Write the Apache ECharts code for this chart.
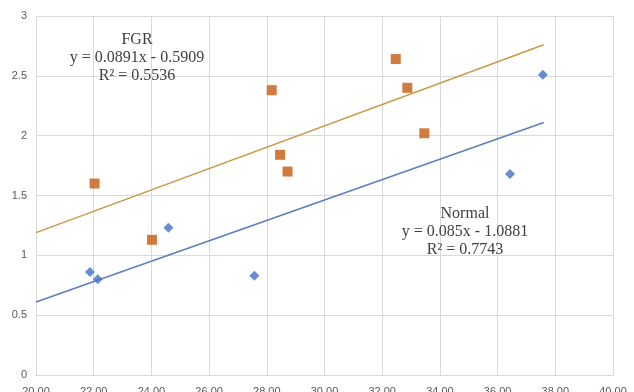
<!DOCTYPE html>
<html>
<head>
<meta charset="utf-8">
<script src="https://cdn.jsdelivr.net/npm/echarts@6/dist/echarts.min.js"></script>
<style>html,body{margin:0;padding:0;background:#fff;}#c{width:634px;height:392px;}</style>
</head>
<body>
<div id="c"></div>
<script>
// Data
const normalPoints = [[21.87, 0.86], [22.14, 0.80], [24.59, 1.23], [27.57, 0.83], [36.43, 1.68], [37.57, 2.51]];
const fgrPoints = [[22.03, 1.60], [24.02, 1.13], [28.17, 2.38], [28.46, 1.84], [28.72, 1.70], [32.47, 2.64], [32.87, 2.40], [33.46, 2.02]];
const normalTrend = [[20, 0.61], [37.6, 2.11]];
const fgrTrend = [[20, 1.19], [37.6, 2.76]];
const fgrLabel = ['FGR', 'y = 0.0891x - 0.5909', 'R\u00B2 = 0.5536'];
const normalLabel = ['Normal', 'y = 0.085x - 1.0881', 'R\u00B2 = 0.7743'];

const chart = echarts.init(document.getElementById('c'), null, {renderer: 'canvas'});
const serif = '"Liberation Serif", "DejaVu Serif", serif';
chart.setOption({
  animation: false,
  backgroundColor: '#fff',
  grid: {left: 36, right: 21, top: 16, bottom: 17, containLabel: false, outerBoundsMode: 'none'},
  xAxis: {
    type: 'value', min: 20, max: 40, interval: 2,
    axisLine: {show: true, lineStyle: {color: '#d9d9d9'}},
    axisTick: {show: false},
    splitLine: {show: true, lineStyle: {color: '#d9d9d9', width: 1}},
    axisLabel: {margin: 11, color: '#595959', fontSize: 11, fontFamily: '"Liberation Sans", sans-serif',
      formatter: v => v.toFixed(2)}
  },
  yAxis: {
    type: 'value', min: 0, max: 3, interval: 0.5,
    axisLine: {show: false},
    axisTick: {show: false},
    splitLine: {show: true, lineStyle: {color: '#d9d9d9', width: 1}},
    axisLabel: {margin: 9, color: '#595959', fontSize: 11, fontFamily: '"Liberation Sans", sans-serif'}
  },
  series: [
    {type: 'line', data: fgrTrend, symbol: 'none', lineStyle: {color: '#c99a45', width: 1.5}, z: 2},
    {type: 'line', data: normalTrend, symbol: 'none', lineStyle: {color: '#5a7fbd', width: 1.5}, z: 2},
    {type: 'scatter', data: normalPoints, symbol: 'diamond', symbolSize: 10, itemStyle: {color: '#4472c4'}, z: 3},
    {type: 'scatter', data: fgrPoints, symbol: 'rect', symbolSize: 10, itemStyle: {color: '#c55a11'}, z: 3}
  ],
  graphic: [
    {type: 'text', x: 137, y: 58, style: {text: fgrLabel.join('\n'), font: '16px ' + serif, fill: '#404040', textAlign: 'center', textVerticalAlign: 'middle', lineHeight: 18}, z: 10},
    {type: 'text', x: 465, y: 232, style: {text: normalLabel.join('\n'), font: '16px ' + serif, fill: '#404040', textAlign: 'center', textVerticalAlign: 'middle', lineHeight: 18}, z: 10}
  ]
});
</script>
</body>
</html>
